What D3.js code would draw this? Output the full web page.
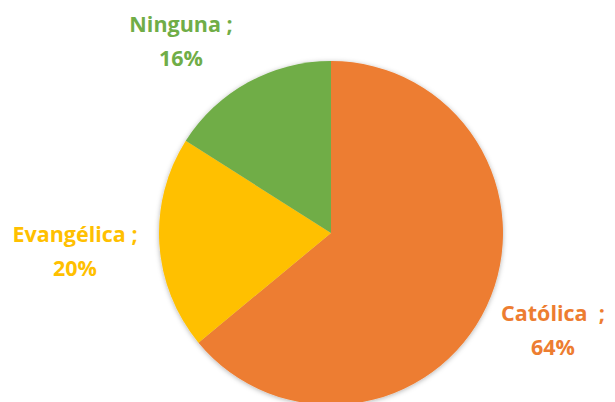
<!DOCTYPE html>
<html>
<head>
<meta charset="utf-8">
<script src="https://cdn.jsdelivr.net/npm/d3@7"></script>
<style>
body { margin: 0; background: #fff; }
text { font-family: "Open Sans", "Liberation Sans", sans-serif; font-weight: bold; }
</style>
</head>
<body>
<div id="chart"></div>
<script>
var categories = ["Católica", "Evangélica", "Ninguna"];
var values     = [64, 20, 16];
var colors     = ["#ED7D31", "#FFC000", "#70AD47"];

var width = 615, height = 402;
var cx = 331, cy = 233, radius = 172;

// label anchor positions (center of first line) per slice
var labelPos = [{x: 553, y: 321}, {x: 75, y: 242}, {x: 181, y: 32}];

var svg = d3.select("#chart").append("svg")
	.attr("width", width)
	.attr("height", height);

var defs = svg.append("defs");
var f = defs.append("filter").attr("id", "shadow")
	.attr("x", "-20%").attr("y", "-20%").attr("width", "140%").attr("height", "140%");
f.append("feDropShadow")
	.attr("dx", 0).attr("dy", 1).attr("stdDeviation", 2.5)
	.attr("flood-color", "#000").attr("flood-opacity", 0.3);

var data = categories.map(function(c, i) { return {name: c, value: values[i], color: colors[i]}; });

var pie = d3.pie().sort(null).value(function(d) { return d.value; });
var arc = d3.arc().innerRadius(0).outerRadius(radius);

var g = svg.append("g").attr("transform", "translate(" + cx + "," + cy + ")");
g.append("g").attr("filter", "url(#shadow)")
	.selectAll("path")
	.data(pie(data))
	.enter()
	.append("path")
	.attr("d", arc)
	.attr("fill", function(d) { return d.data.color; });

var labels = svg.selectAll("text.lbl")
	.data(data)
	.enter()
	.append("text")
	.attr("class", "lbl")
	.attr("text-anchor", "middle")
	.attr("font-size", 21.5)
	.attr("fill", function(d) { return d.color; })
	.attr("x", function(d, i) { return labelPos[i].x; })
	.attr("y", function(d, i) { return labelPos[i].y; });

labels.append("tspan")
	.attr("x", function(d, i) { return labelPos[i].x; })
	.text(function(d) { return d.name === "Católica" ? d.name + "\u00a0 ;" : d.name + " ;"; });
labels.append("tspan")
	.attr("x", function(d, i) { return labelPos[i].x; })
	.attr("dy", 34)
	.text(function(d) { return d.value + "%"; });
</script>
</body>
</html>
